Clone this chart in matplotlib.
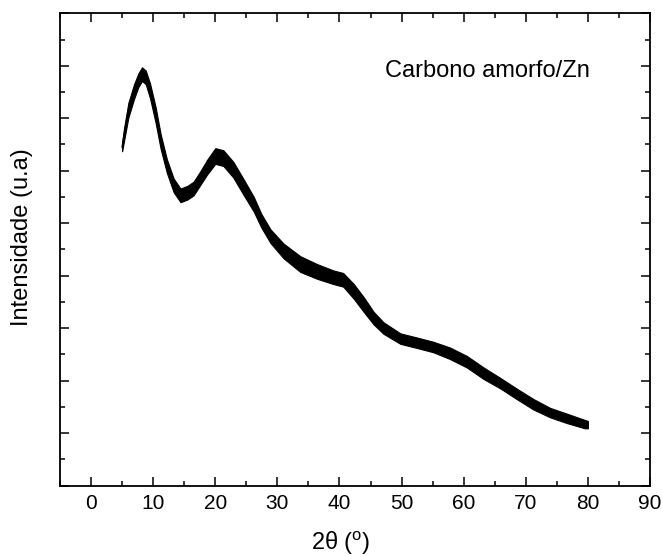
import matplotlib
matplotlib.use("Agg")
import matplotlib.pyplot as plt
from matplotlib.ticker import MultipleLocator

plt.rcParams['font.family'] = ['Liberation Sans', 'DejaVu Sans']
plt.rcParams['mathtext.fontset'] = 'custom'
plt.rcParams['mathtext.rm'] = 'Liberation Sans'

# pattern (2theta in degrees, intensity in arbitrary units)
two_theta = [5.0, 5.3, 6.0, 6.9, 7.6, 8.2, 8.8, 9.5, 10.4, 11.2, 12.2, 13.3,
             14.4, 15.5, 16.5, 17.6, 18.7, 20.0, 21.3, 22.9, 24.5, 26.2, 27.4,
             28.9, 31.0, 33.7, 36.4, 39.0, 40.6, 42.3, 43.9, 45.5, 47.1, 49.8,
             52.5, 55.1, 57.8, 60.5, 63.2, 65.9, 68.5, 71.2, 73.9, 76.6, 79.5,
             80.0]
intensity = [6.45, 6.68, 7.15, 7.50, 7.72, 7.84, 7.78, 7.52, 7.06, 6.56, 6.09, 5.72,
             5.53, 5.58, 5.66, 5.86, 6.07, 6.28, 6.24, 6.02, 5.70, 5.36, 5.05,
             4.75, 4.47, 4.22, 4.08, 3.97, 3.92, 3.70, 3.45, 3.19, 3.00, 2.80,
             2.72, 2.64, 2.52, 2.36, 2.14, 1.95, 1.75, 1.55, 1.39, 1.28, 1.17,
             1.16]
# half thickness of the noise band around the curve
noise = [0.08, 0.12, 0.14, 0.14, 0.13, 0.13, 0.13, 0.14, 0.15, 0.14, 0.13, 0.13,
         0.13, 0.13, 0.13, 0.13, 0.14, 0.15, 0.15, 0.15, 0.15, 0.14, 0.13,
         0.13, 0.14, 0.15, 0.14, 0.13, 0.13, 0.14, 0.14, 0.12, 0.11, 0.10,
         0.10, 0.10, 0.11, 0.11, 0.11, 0.10, 0.10, 0.10, 0.09, 0.09, 0.08,
         0.07]

upper = [y + n for y, n in zip(intensity, noise)]
lower = [y - n for y, n in zip(intensity, noise)]

fig = plt.figure(figsize=(6.62, 5.56), dpi=100)
ax = fig.add_axes([60/662, 1 - 485.5/556, 590/662, 472.2/556])

ax.fill_between(two_theta, lower, upper, color="black", linewidth=0.8)
ax.plot(two_theta, intensity, color="black", linewidth=1.0)

ax.set_xlim(-5, 90)
ax.set_ylim(0, 9)
ax.xaxis.set_major_locator(MultipleLocator(10))
ax.xaxis.set_minor_locator(MultipleLocator(5))
ax.yaxis.set_major_locator(MultipleLocator(1))
ax.yaxis.set_minor_locator(MultipleLocator(0.5))
ax.set_yticklabels([])

ax.tick_params(which="both", direction="in", top=True, right=True, width=1.1)
ax.tick_params(which="major", length=6.5, labelsize=15, pad=6)
ax.tick_params(which="minor", length=3.5)
for s in ax.spines.values():
    s.set_linewidth(1.3)

ax.set_xlabel(r"2θ ($^{\mathrm{o}}$)", fontsize=17)
ax.xaxis.set_label_coords(0.475, -0.092)
ax.set_ylabel("Intensidade (u.a)", fontsize=17)
ax.yaxis.set_label_coords(-0.046, 0.525)

ax.text(0.551, 0.865, "Carbono amorfo/Zn", transform=ax.transAxes,
        fontsize=17, va="baseline", ha="left")

fig.savefig("out.png", dpi=100)
